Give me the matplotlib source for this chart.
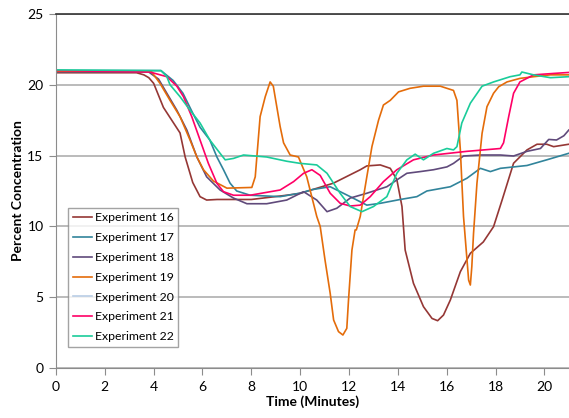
from matplotlib import pyplot as plt
import numpy as np

# time (minutes) / percent concentration
t16 = [0, 3.3, 3.6, 3.8, 4.0, 4.4, 4.74, 5.08, 5.29, 5.6, 5.9, 6.17, 6.6, 8.0, 9.45, 10.0, 11.36, 12.46, 12.73,
       13.28, 13.69, 13.96, 14.17, 14.3, 14.64, 15.05, 15.4, 15.63, 15.87, 16.15, 16.56, 16.97, 17.5, 17.92,
       18.27, 18.74, 19.29, 19.7, 20.1, 20.38, 21.0]
y16 = [20.85, 20.85, 20.7, 20.5, 20.1, 18.4, 17.5, 16.6, 14.9, 13.1, 12.1, 11.86, 11.9, 11.9, 12.2, 12.33, 13.05, 14.0, 14.27,
       14.34, 14.1, 13.3, 11.4, 8.33, 5.98, 4.33, 3.5, 3.34, 3.74, 4.8, 6.8, 8.1, 8.9, 9.98,
       11.86, 14.46, 15.4, 15.8, 15.8, 15.63, 15.8]

t17 = [0, 4.3, 4.8, 5.2, 5.6, 5.9, 6.3, 6.59, 6.86, 7.13, 7.4, 7.95, 9.18, 10.0, 10.5, 11.23, 12.05, 12.73,
       13.28, 14.1, 14.78, 15.19, 16.15, 16.83, 17.38, 17.79, 18.2, 19.29, 20.1, 21.0]
y17 = [21.0, 21.0, 20.3, 19.4, 18.0, 17.0, 16.1, 14.9, 14.0, 13.05, 12.5, 12.2, 12.1, 12.35, 12.6, 12.8, 12.1, 11.5,
       11.63, 11.9, 12.1, 12.5, 12.8, 13.4, 14.1, 13.87, 14.1, 14.3, 14.7, 15.16]

t18 = [0, 3.8, 4.2, 4.54, 4.95, 5.36, 5.77, 6.17, 6.72, 7.27, 7.82, 8.63, 9.45, 10.14, 10.68, 11.1, 11.5,
       12.05, 12.73, 13.55, 13.96, 14.37, 14.92, 15.46, 16.01, 16.28, 16.69, 17.38, 18.2, 18.74, 19.29, 19.84,
       20.18, 20.5, 20.8, 21.0]
y18 = [20.9, 20.9, 20.4, 19.4, 18.2, 16.8, 14.9, 13.5, 12.57, 12.0, 11.6, 11.6, 11.86, 12.45, 11.86, 11.04, 11.28,
       12.0, 12.34, 12.8, 13.28, 13.75, 13.87, 14.0, 14.2, 14.45, 14.97, 15.04, 15.04, 14.97, 15.3, 15.5,
       16.14, 16.1, 16.4, 16.8]

t19 = [0, 3.9, 4.26, 4.67, 5.08, 5.49, 5.77, 6.04, 6.45, 7.0, 8.02, 8.16, 8.36, 8.57, 8.77, 8.9, 9.18, 9.32,
       9.59, 9.93, 10.27, 10.68, 10.82, 11.02, 11.23, 11.37, 11.57, 11.75, 11.91, 11.98, 12.12, 12.25, 12.3,
       12.46, 12.73, 12.94, 13.21, 13.41, 13.69, 14.03, 14.5, 15.05, 15.74, 16.28, 16.42, 16.56, 16.69, 16.8,
       16.9, 16.97, 17.03, 17.1, 17.24, 17.45, 17.65, 17.92, 18.13, 18.47, 19.0, 19.56, 20.25, 21.0]
y19 = [20.95, 20.95, 20.1, 18.9, 17.75, 16.1, 14.9, 14.0, 13.2, 12.7, 12.75, 13.5, 17.75, 19.16, 20.2, 19.9, 17.05, 15.9,
       15.04, 14.9, 13.5, 10.7, 10.0, 7.6, 5.27, 3.39, 2.57, 2.33, 2.8, 4.8, 8.33, 9.75, 9.75,
       10.7, 13.5, 15.64, 17.5, 18.57, 18.9, 19.5, 19.75, 19.9, 19.9, 19.6, 18.9, 15.4, 10.7, 8.33,
       6.2, 5.86, 7.16, 9.5, 13.04, 16.57, 18.45, 19.4, 19.86, 20.2, 20.45, 20.57, 20.7, 20.7]

# experiment 20 has no visible trace in the chart, only a legend entry
t20 = []
y20 = []

t21 = [0, 3.85, 4.54, 4.95, 5.22, 5.56, 5.9, 6.24, 6.59, 6.86, 7.27, 7.95, 9.18, 9.73, 10.14, 10.48, 10.82,
       11.23, 11.64, 12.05, 12.46, 12.87, 13.41, 13.96, 14.64, 15.46, 16.83, 18.2, 18.33, 18.54, 18.74, 19.0,
       19.56, 20.38, 21.0]
y21 = [21.0, 20.9, 20.57, 19.9, 19.16, 17.75, 16.1, 14.45, 13.04, 12.45, 12.2, 12.2, 12.57, 13.16, 13.75, 14.0, 13.6,
       12.34, 11.63, 11.44, 11.5, 12.1, 13.16, 14.0, 14.7, 15.04, 15.3, 15.5, 15.9, 17.75, 19.4, 20.2,
       20.7, 20.8, 20.87]

t22 = [0, 4.3, 4.54, 4.67, 5.08, 5.49, 5.9, 6.3, 6.72, 6.93, 7.27, 7.68, 8.63, 9.45, 10.0, 10.68, 11.1, 11.64,
       12.05, 12.53, 13.0, 13.55, 13.96, 14.37, 14.71, 15.05, 15.46, 16.01, 16.28, 16.42, 16.62, 16.97, 17.45,
       17.92, 18.6, 19.0, 19.08, 19.56, 20.25, 21.0]
y22 = [21.05, 21.0, 20.57, 20.0, 19.16, 18.2, 17.3, 16.1, 15.16, 14.7, 14.8, 15.04, 14.9, 14.6, 14.45, 14.34, 13.75, 12.33,
       11.4, 11.04, 11.4, 12.1, 13.75, 14.7, 15.1, 14.7, 15.16, 15.5, 15.4, 15.63, 17.3, 18.7, 19.9,
       20.2, 20.57, 20.7, 20.9, 20.7, 20.5, 20.57]

series = [
    ('Experiment 16', t16, y16, '#953735'),
    ('Experiment 17', t17, y17, '#31849B'),
    ('Experiment 18', t18, y18, '#604A7B'),
    ('Experiment 19', t19, y19, '#E46C0A'),
    ('Experiment 20', t20, y20, '#B9CDE5'),
    ('Experiment 21', t21, y21, '#FF0066'),
    ('Experiment 22', t22, y22, '#1ACC9A'),
]

plt.rcParams['font.family'] = ['Lato', 'DejaVu Sans']

fig = plt.figure(figsize=(5.69, 4.18), dpi=100)
ax = fig.add_axes([0.0984, 0.1196, 0.9016, 0.847])

for label, t, y, color in series:
    ax.plot(t, y, color=color, lw=1.2, label=label)

ax.set_xlim(0, 21.01)
ax.set_ylim(0, 25)
ax.set_xticks(np.arange(0, 21, 2))
ax.set_yticks(np.arange(0, 26, 5))
ax.yaxis.grid(True, color='#AFAFAF', lw=1.2)
ax.set_axisbelow(True)

for side in ['left', 'bottom']:
    ax.spines[side].set_color('#8C8C8C')
ax.spines['top'].set_color('#333333')
ax.spines['top'].set_linewidth(1.2)
ax.spines['right'].set_visible(False)
ax.tick_params(direction='out', length=5, color='#8C8C8C', labelsize=10, pad=4)

ax.set_xlabel('Time (Minutes)', fontsize=10, fontweight='bold', labelpad=2)
ax.set_ylabel('Percent Concentration', fontsize=10, fontweight='bold', labelpad=2)

leg = ax.legend(loc='lower left', bbox_to_anchor=(0.023, 0.059), borderaxespad=0, fontsize=8.8,
                frameon=True, fancybox=False, edgecolor='#8C8C8C', handlelength=1.6, handletextpad=0.2,
                labelspacing=0.72, borderpad=0.4)
leg.get_frame().set_linewidth(1.0)

plt.savefig('out.png', dpi=100)
